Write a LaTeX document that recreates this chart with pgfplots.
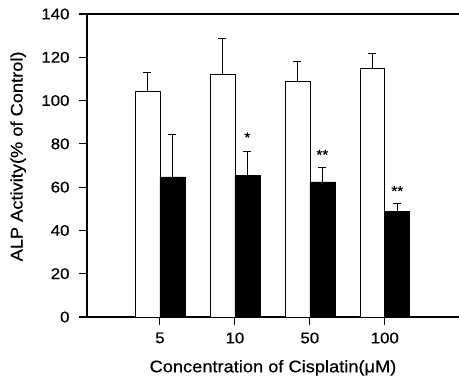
\documentclass[border=0pt]{standalone}
\usepackage{pgfplots}
\pgfplotsset{compat=1.18}
\usepackage{fontspec}
\setmainfont{Liberation Sans}[FakeStretch=1.09, FakeBold=0.6]
\begin{document}
\begin{tikzpicture}
\begin{axis}[
  scale only axis, width=372bp, height=303bp,
  xmin=-0.973, xmax=3.99, ymin=0, ymax=140,
  axis x line=box, axis y line=left,
  axis line style={-, line width=1.1pt, black},
  xtick={0,1,2,3}, xticklabels={5,10,50,100},
  ytick={0,20,...,140},
  xtick pos=lower, ytick pos=left,
  tick align=outside, major tick length=8bp,
  tick style={black, line width=1.1pt},
  /pgf/number format/assume math mode=true,
  tick label style={font=\fontsize{15.5}{15.5}\selectfont},
  xticklabel style={yshift=-4bp},
  yticklabel style={xshift=-6bp},
  every axis x label/.style={at={(axis description cs:0.5,-0.168)}, anchor=center, font=\fontsize{16.8}{16.8}\selectfont},
  every axis y label/.style={at={(axis description cs:-0.185,0.53)}, anchor=center, rotate=90, font=\fontsize{16.8}{16.8}\selectfont},
  ylabel={ALP Activity(\% of Control)},
  xlabel={Concentration of Cisplatin(μM)},
  clip=false,
]
\addplot[ybar, bar width=0.333, bar shift=0pt, fill=white, draw=black, line width=0.6pt,
  error bars/.cd, y dir=plus, y explicit,
  error bar style={line width=0.8pt, black},
  error mark options={rotate=90, mark size=4bp, line width=0.8pt}]
  coordinates {
  (-0.1667,104.4) +- (0,8.8)
  (0.8333,112.3) +- (0,16.2)
  (1.8333,109.0) +- (0,9.3)
  (2.8333,115.0) +- (0,6.7)
  };
\addplot[ybar, bar width=0.333, bar shift=0pt, fill=black, draw=black, line width=0.6pt,
  error bars/.cd, y dir=plus, y explicit,
  error bar style={line width=0.8pt, black},
  error mark options={rotate=90, mark size=4bp, line width=0.8pt}]
  coordinates {
  (0.1667,64.7) +- (0,19.9)
  (1.1667,65.3) +- (0,11.3)
  (2.1667,62.4) +- (0,6.9)
  (3.1667,48.8) +- (0,3.7)
  };
\addplot[draw=none, mark=none, nodes near coords, point meta=explicit symbolic,
  nodes near coords style={anchor=center, font=\fontsize{14}{14}\selectfont}]
  coordinates {
  (1.1667,83.0) [*]
  (2.1667,75.0) [**]
  (3.1667,58.2) [**]
  };
\end{axis}
\pgfresetboundingbox
\path[use as bounding box] (-87bp,-70bp) rectangle (372bp,317bp);
\end{tikzpicture}
\end{document}
